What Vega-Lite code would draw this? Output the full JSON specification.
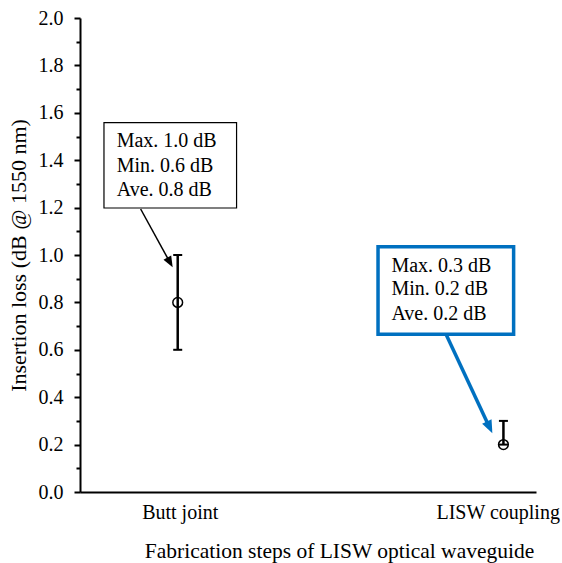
{
  "$schema": "https://vega.github.io/schema/vega-lite/v6.json",
  "width": 456,
  "height": 474,
  "autosize": {"type": "none"},
  "padding": {"left": 80, "top": 18, "right": 26, "bottom": 71},
  "background": "white",
  "config": {"view": {"stroke": null}, "font": "Liberation Serif"},
  "resolve": {"axis": {"y": "independent"}},
  "datasets": {
    "points": [
      {"step": "Butt joint", "pos": 1, "min": 0.6, "max": 1.0, "ave": 0.8},
      {"step": "LISW coupling", "pos": 2, "min": 0.2, "max": 0.3, "ave": 0.2}
    ],
    "boxes": [
      {"box": "butt", "x1": 0.7736, "x2": 1.1807, "y1": 1.5582, "y2": 1.1983},
      {"box": "lisw", "x1": 1.6150, "x2": 2.0313, "y1": 1.0350, "y2": 0.6654}
    ],
    "labels": [
      {"box": "butt", "x": 0.8126, "y": 1.4557, "text": "Max. 1.0 dB"},
      {"box": "butt", "x": 0.8126, "y": 1.3515, "text": "Min. 0.6 dB"},
      {"box": "butt", "x": 0.8126, "y": 1.2489, "text": "Ave. 0.8 dB"},
      {"box": "lisw", "x": 1.6561, "y": 0.9295, "text": "Max. 0.3 dB"},
      {"box": "lisw", "x": 1.6561, "y": 0.8312, "text": "Min. 0.2 dB"},
      {"box": "lisw", "x": 1.6561, "y": 0.7257, "text": "Ave. 0.2 dB"}
    ],
    "arrows": [
      {"arrow": "butt", "part": "start", "x": 0.8862, "y": 1.1941},
      {"arrow": "butt", "part": "end", "x": 0.9770, "y": 0.9667},
      {"arrow": "butt", "part": "tip", "x": 0.9844, "y": 0.9481},
      {"arrow": "lisw", "part": "start", "x": 1.8248, "y": 0.6624},
      {"arrow": "lisw", "part": "end", "x": 1.9567, "y": 0.2743},
      {"arrow": "lisw", "part": "tip", "x": 1.9660, "y": 0.2477}
    ]
  },
  "layer": [
    {
      "data": {"name": "points"},
      "mark": {"type": "rule", "color": "black", "strokeWidth": 2.5},
      "encoding": {
        "x": {
          "field": "pos", "type": "quantitative",
          "scale": {"domain": [0.7, 2.1], "nice": false, "zero": false},
          "axis": {
            "values": [1, 2],
            "title": "Fabrication steps of LISW optical waveguide",
            "labelExpr": "datum.value == 1 ? 'Butt joint' : 'LISW coupling'",
            "ticks": false,
            "grid": false,
            "domainColor": "black",
            "domainWidth": 2,
            "labelFont": "Liberation Serif",
            "labelFontSize": 20,
            "labelColor": "black",
            "labelPadding": 10,
            "labelOffset": 2,
            "labelFlush": 40,
            "labelFlushOffset": 54,
            "titleFont": "Liberation Serif",
            "titleFontSize": 21.5,
            "titleFontWeight": "normal",
            "titleColor": "black",
            "titlePadding": 18,
            "titleX": 259,
            "titleAlign": "center",
            "titleAnchor": null
          }
        },
        "y": {
          "field": "min", "type": "quantitative",
          "scale": {"domain": [0, 2], "nice": false},
          "axis": {
            "values": [0, 0.2, 0.4, 0.6, 0.8, 1.0, 1.2, 1.4, 1.6, 1.8, 2.0],
            "format": ".1f",
            "orient": "left",
            "tickSize": 6,
            "tickWidth": 2,
            "tickColor": "black",
            "domainColor": "black",
            "domainWidth": 2,
            "grid": false,
            "labelFont": "Liberation Serif",
            "labelFontSize": 20,
            "labelColor": "black",
            "labelPadding": 11,
            "title": "Insertion loss (dB @ 1550 nm)",
            "titleFont": "Liberation Serif",
            "titleFontSize": 22,
            "titleFontWeight": "normal",
            "titleColor": "black",
            "titlePadding": 8
          }
        },
        "y2": {"field": "max"}
      }
    },
    {
      "data": {"name": "points"},
      "mark": {"type": "point", "opacity": 0},
      "encoding": {
        "x": {"field": "pos", "type": "quantitative", "scale": {"domain": [0.7, 2.1], "nice": false, "zero": false}},
        "y": {
          "field": "ave", "type": "quantitative",
          "scale": {"domain": [0, 2], "nice": false},
          "axis": {
            "orient": "left",
            "values": [0.1, 0.3, 0.5, 0.7, 0.9, 1.1, 1.3, 1.5, 1.7, 1.9],
            "labels": false,
            "domain": false,
            "grid": false,
            "tickSize": 4,
            "tickWidth": 2,
            "tickColor": "black",
            "title": null
          }
        }
      }
    },
    {
      "data": {"name": "points"},
      "mark": {"type": "tick", "orient": "horizontal", "size": 9, "thickness": 2, "color": "black", "opacity": 1},
      "encoding": {
        "x": {"field": "pos", "type": "quantitative", "scale": {"domain": [0.7, 2.1], "nice": false, "zero": false}},
        "y": {"field": "max", "type": "quantitative", "scale": {"domain": [0, 2], "nice": false}, "axis": null}
      }
    },
    {
      "data": {"name": "points"},
      "mark": {"type": "tick", "orient": "horizontal", "size": 9, "thickness": 2, "color": "black", "opacity": 1},
      "encoding": {
        "x": {"field": "pos", "type": "quantitative", "scale": {"domain": [0.7, 2.1], "nice": false, "zero": false}},
        "y": {"field": "min", "type": "quantitative", "scale": {"domain": [0, 2], "nice": false}, "axis": null}
      }
    },
    {
      "data": {"name": "points"},
      "mark": {"type": "point", "shape": "circle", "filled": false, "size": 95, "stroke": "black", "strokeWidth": 1.5, "opacity": 1},
      "encoding": {
        "x": {"field": "pos", "type": "quantitative", "scale": {"domain": [0.7, 2.1], "nice": false, "zero": false}},
        "y": {"field": "ave", "type": "quantitative", "scale": {"domain": [0, 2], "nice": false}, "axis": null}
      }
    },
    {
      "data": {"name": "boxes"},
      "transform": [{"filter": "datum.box == 'butt'"}],
      "mark": {"type": "rect", "fill": "white", "stroke": "black", "strokeWidth": 1.2},
      "encoding": {
        "x": {"field": "x1", "type": "quantitative", "scale": {"domain": [0.7, 2.1], "nice": false, "zero": false}},
        "x2": {"field": "x2"},
        "y": {"field": "y1", "type": "quantitative", "scale": {"domain": [0, 2], "nice": false}, "axis": null},
        "y2": {"field": "y2"}
      }
    },
    {
      "data": {"name": "boxes"},
      "transform": [{"filter": "datum.box == 'lisw'"}],
      "mark": {"type": "rect", "fill": "white", "stroke": "#0070C0", "strokeWidth": 3.5},
      "encoding": {
        "x": {"field": "x1", "type": "quantitative", "scale": {"domain": [0.7, 2.1], "nice": false, "zero": false}},
        "x2": {"field": "x2"},
        "y": {"field": "y1", "type": "quantitative", "scale": {"domain": [0, 2], "nice": false}, "axis": null},
        "y2": {"field": "y2"}
      }
    },
    {
      "data": {"name": "labels"},
      "mark": {"type": "text", "align": "left", "baseline": "alphabetic", "fontSize": 20, "font": "Liberation Serif", "color": "black"},
      "encoding": {
        "x": {"field": "x", "type": "quantitative", "scale": {"domain": [0.7, 2.1], "nice": false, "zero": false}},
        "y": {"field": "y", "type": "quantitative", "scale": {"domain": [0, 2], "nice": false}, "axis": null},
        "text": {"field": "text"}
      }
    },
    {
      "data": {"name": "arrows"},
      "transform": [{"filter": "datum.arrow == 'butt' && datum.part != 'tip'"}],
      "mark": {"type": "line", "color": "black", "strokeWidth": 1.5},
      "encoding": {
        "x": {"field": "x", "type": "quantitative", "scale": {"domain": [0.7, 2.1], "nice": false, "zero": false}},
        "y": {"field": "y", "type": "quantitative", "scale": {"domain": [0, 2], "nice": false}, "axis": null}
      }
    },
    {
      "data": {"name": "arrows"},
      "transform": [{"filter": "datum.arrow == 'lisw' && datum.part != 'tip'"}],
      "mark": {"type": "line", "color": "#0070C0", "strokeWidth": 3.5},
      "encoding": {
        "x": {"field": "x", "type": "quantitative", "scale": {"domain": [0.7, 2.1], "nice": false, "zero": false}},
        "y": {"field": "y", "type": "quantitative", "scale": {"domain": [0, 2], "nice": false}, "axis": null}
      }
    },
    {
      "data": {"name": "arrows"},
      "transform": [{"filter": "datum.arrow == 'butt' && datum.part == 'tip'"}],
      "mark": {"type": "point", "shape": "M0,0L-0.4,1L0.4,1Z", "filled": true, "color": "black", "opacity": 1, "size": 484, "angle": 151.2},
      "encoding": {
        "x": {"field": "x", "type": "quantitative", "scale": {"domain": [0.7, 2.1], "nice": false, "zero": false}},
        "y": {"field": "y", "type": "quantitative", "scale": {"domain": [0, 2], "nice": false}, "axis": null}
      }
    },
    {
      "data": {"name": "arrows"},
      "transform": [{"filter": "datum.arrow == 'lisw' && datum.part == 'tip'"}],
      "mark": {"type": "point", "shape": "M0,0L-0.4,1L0.4,1Z", "filled": true, "color": "#0070C0", "opacity": 1, "size": 676, "angle": 154.9},
      "encoding": {
        "x": {"field": "x", "type": "quantitative", "scale": {"domain": [0.7, 2.1], "nice": false, "zero": false}},
        "y": {"field": "y", "type": "quantitative", "scale": {"domain": [0, 2], "nice": false}, "axis": null}
      }
    }
  ]
}
